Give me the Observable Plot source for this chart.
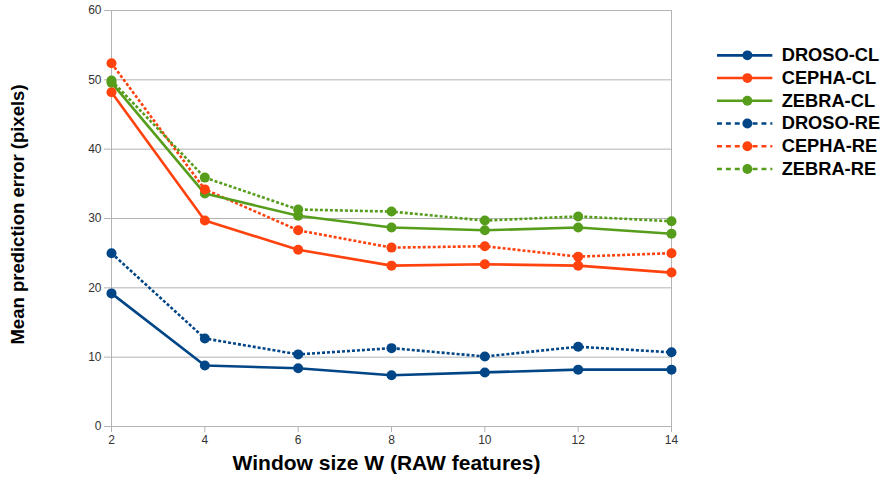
<!DOCTYPE html>
<html>
<head>
<meta charset="utf-8">
<script src="https://cdn.jsdelivr.net/npm/d3@7"></script>
<script src="https://cdn.jsdelivr.net/npm/@observablehq/plot@0.6"></script>
<style>
  html, body { margin: 0; padding: 0; background: #fff; }
  #wrap { position: relative; width: 880px; height: 485px; font-family: "Liberation Sans", Arial, sans-serif; }
  #main { position: absolute; left: 0; top: 0; }
  #legend { position: absolute; left: 717px; top: 44px; }
</style>
</head>
<body>
<div id="wrap"><div id="main"></div><div id="legend"></div></div>
<script>
const windowSizes = [2, 4, 6, 8, 10, 12, 14];
const seriesNames = ["DROSO-CL", "CEPHA-CL", "ZEBRA-CL", "DROSO-RE", "CEPHA-RE", "ZEBRA-RE"];
const seriesColors = ["#004586", "#ff420e", "#579d1c", "#004586", "#ff420e", "#579d1c"];
const drosoCL = [19.2, 8.8, 8.4, 7.4, 7.8, 8.2, 8.2];
const cephaCL = [48.2, 29.7, 25.5, 23.2, 23.4, 23.2, 22.2];
const zebraCL = [49.6, 33.6, 30.4, 28.7, 28.3, 28.7, 27.8];
const drosoRE = [25.0, 12.7, 10.4, 11.3, 10.1, 11.5, 10.7];
const cephaRE = [52.4, 34.2, 28.3, 25.8, 26.0, 24.5, 25.0];
const zebraRE = [49.9, 35.9, 31.3, 31.0, 29.7, 30.3, 29.6];
const yTicks = [0, 10, 20, 30, 40, 50, 60];
const xLabel = "Window size W (RAW features)";
const yLabel = "Mean prediction error (pixels)";

const seriesValues = [drosoCL, cephaCL, zebraCL, drosoRE, cephaRE, zebraRE];
const rows = [];
seriesNames.forEach((name, i) => {
  seriesValues[i].forEach((v, j) => rows.push({series: name, w: windowSizes[j], value: v, re: name.endsWith("RE")}));
});
const colorScale = {domain: seriesNames, range: seriesColors};
const font = "'Liberation Sans', Arial, sans-serif";

const main = Plot.plot({
  width: 880,
  height: 485,
  marginLeft: 111,
  marginRight: 209,
  marginTop: 10,
  marginBottom: 59,
  style: {fontFamily: font, background: "#fff"},
  x: {domain: [2, 14], ticks: windowSizes, label: null},
  y: {domain: [0, 60], ticks: yTicks, label: null},
  color: colorScale,
  marks: [
    Plot.ruleY(yTicks, {stroke: "#b3b3b3", strokeWidth: 1}),
    Plot.ruleX([2, 14], {stroke: "#b3b3b3", strokeWidth: 1}),
    Plot.axisX({ticks: windowSizes, tickSize: 6, tickPadding: 3, fontSize: 12, fill: "#333", stroke: "#b3b3b3", label: null}),
    Plot.axisY({ticks: yTicks, tickSize: 7, tickPadding: 3, fontSize: 12, fill: "#333", stroke: "#b3b3b3", label: null}),
    Plot.line(rows.filter(d => d.re), {x: "w", y: "value", z: "series", stroke: "series", strokeWidth: 2.6, strokeDasharray: "3,2", strokeLinecap: "butt"}),
    Plot.line(rows.filter(d => !d.re), {x: "w", y: "value", z: "series", stroke: "series", strokeWidth: 2.6}),
    Plot.dot(rows, {x: "w", y: "value", fill: "series", r: 5}),
    Plot.text([yLabel], {frameAnchor: "left", textAnchor: "middle", rotate: -90, dx: -93, dy: -4, fontSize: 18.5, fontWeight: "bold", fill: "#000"}),
    Plot.text([xLabel], {frameAnchor: "bottom", textAnchor: "middle", dy: 43, dx: -5, fontSize: 21, fontWeight: "bold", fill: "#000"})
  ]
});
document.getElementById("main").appendChild(main);

const legendRows = seriesNames.map(n => ({series: n, re: n.endsWith("RE")}));
const legend = Plot.plot({
  width: 165,
  height: 140,
  margin: 0,
  style: {fontFamily: font, background: "transparent", overflow: "visible"},
  x: {domain: [0, 1], range: [0, 56], axis: null},
  y: {type: "point", domain: seriesNames, range: [10, 126.5], padding: 0, axis: null},
  color: colorScale,
  marks: [
    Plot.ruleY(legendRows.filter(d => !d.re), {y: "series", x1: 0, x2: 1, stroke: "series", strokeWidth: 2.6}),
    Plot.ruleY(legendRows.filter(d => d.re), {y: "series", x1: 0, x2: 1, stroke: "series", strokeWidth: 2.6, strokeDasharray: "5,4"}),
    Plot.dot(legendRows, {y: "series", x: 0.54, fill: "series", r: 5}),
    Plot.text(legendRows, {y: "series", x: 1, dx: 9, text: "series", textAnchor: "start", fontSize: 18.5, fontWeight: "bold", fill: "#000"})
  ]
});
document.getElementById("legend").appendChild(legend);
</script>
</body>
</html>
